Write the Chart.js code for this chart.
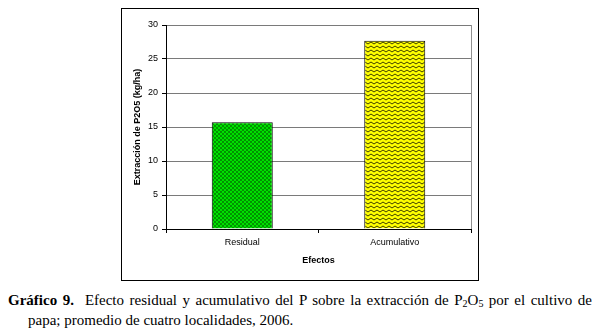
<!DOCTYPE html>
<html>
<head>
<meta charset="utf-8">
<script src="https://cdn.jsdelivr.net/npm/chart.js@4"></script>
<style>
    html, body { margin: 0; padding: 0; background: #fff; }
    body { width: 600px; height: 334px; position: relative; overflow: hidden; }
    #frame { position: absolute; left: 121px; top: 8px; width: 358px; height: 273px; box-sizing: border-box; border: 1px solid #000; }
    #frame canvas { display: block; }
    #caption { position: absolute; left: 8px; top: 290px; width: 584px; margin: 0; padding-left: 20px; text-indent: -20px; box-sizing: border-box;
        font-family: 'Liberation Serif', 'Times New Roman', serif; font-size: 15px; line-height: 20px; text-align: justify; color: #000; }
    #caption sub { font-size: 10px; vertical-align: -2px; line-height: 0; }
</style>
</head>
<body>
<div id="frame"><canvas id="chart" width="356" height="271"></canvas></div>
<p id="caption"><b>Gráfico 9.</b>&nbsp; Efecto residual y acumulativo del P sobre la extracción de P<sub>2</sub>O<sub>5</sub> por el cultivo de papa; promedio de cuatro localidades, 2006.</p>
<script>
    const categories = ['Residual', 'Acumulativo'];
    const extraccion = [15.7, 27.7];
    const yTicks = [0, 5, 10, 15, 20, 25, 30];

    function checker() {
        const c = document.createElement('canvas');
        c.width = 4; c.height = 4;
        const g = c.getContext('2d');
        g.fillStyle = '#00e000'; g.fillRect(0, 0, 4, 4);
        g.fillStyle = '#009400'; g.fillRect(0, 0, 2, 2); g.fillRect(2, 2, 2, 2);
        return g.createPattern(c, 'repeat');
    }

    function zigzag() {
        const c = document.createElement('canvas');
        c.width = 6; c.height = 4;
        const g = c.getContext('2d');
        g.fillStyle = '#ffff00'; g.fillRect(0, 0, 6, 4);
        g.strokeStyle = '#3c3c00'; g.lineWidth = 1;
        g.beginPath(); g.moveTo(0, 3); g.lineTo(3, 1); g.lineTo(6, 3); g.stroke();
        return g.createPattern(c, 'repeat');
    }

    const plotBorder = {
        id: 'plotBorder',
        afterDraw(chart) {
            const { ctx, chartArea: a } = chart;
            ctx.save();
            ctx.strokeStyle = '#909090'; ctx.lineWidth = 1;
            ctx.beginPath(); ctx.moveTo(Math.round(a.right) + .5, a.top); ctx.lineTo(Math.round(a.right) + .5, a.bottom); ctx.stroke();
            ctx.restore();
        }
    };

    Chart.defaults.font.family = "'Liberation Sans', Arial, sans-serif";
    Chart.defaults.color = '#000';

    new Chart(document.getElementById('chart'), {
        type: 'bar',
        data: { labels: categories, datasets: [{
            label: 'Extracción de P2O5', data: extraccion,
            backgroundColor: [checker(), zigzag()], borderColor: '#000', borderWidth: 1,
            categoryPercentage: 1, barPercentage: 0.4,
        }]},
        options: {
            responsive: false, animation: false, devicePixelRatio: 1,
            layout: { padding: { top: 16, right: 7, left: 0, bottom: 0 } },
            plugins: { legend: { display: false }, tooltip: { enabled: false } },
            scales: {
                x: {
                    grid: { display: true, drawOnChartArea: false, offset: true, tickLength: 4, tickColor: '#000' },
                    border: { color: '#000' },
                    ticks: { font: { size: 9 }, padding: 4 },
                    title: { display: true, text: 'Efectos', font: { size: 9, weight: 'bold' }, padding: { top: 0, bottom: 14 } },
                    afterFit: (scale) => { scale.height = 51; },
                },
                y: {
                    min: 0, max: 30,
                    afterBuildTicks: (scale) => { scale.ticks = yTicks.map((v) => ({ value: v })); },
                    grid: { color: '#7a7a7a', tickLength: 4, tickColor: '#000' },
                    border: { color: '#000' },
                    ticks: { font: { size: 9 }, padding: 4 },
                    title: { display: true, text: 'Extracción de P2O5 (kg/ha)', font: { size: 9, weight: 'bold' }, padding: { top: 10, bottom: 0 } },
                    afterFit: (scale) => { scale.width = 44; },
                },
            },
        },
        plugins: [plotBorder],
    });
</script>
</body>
</html>
